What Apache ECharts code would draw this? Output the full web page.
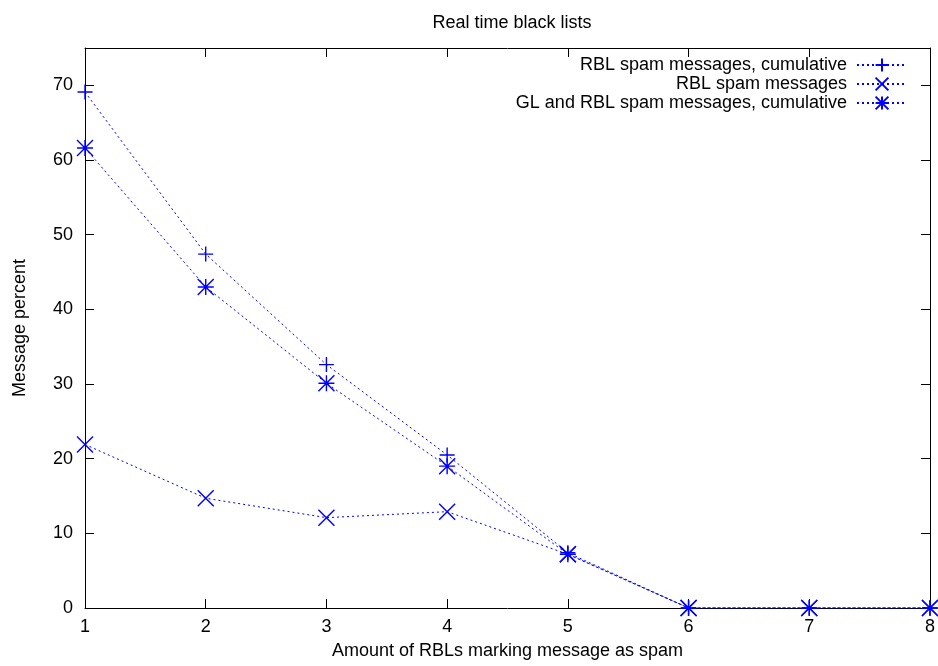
<!DOCTYPE html>
<html>
<head>
<meta charset="utf-8">
<script src="https://cdn.jsdelivr.net/npm/echarts@6/dist/echarts.min.js"></script>
<style>
  html, body { margin: 0; padding: 0; background: #fff; }
  #main { width: 938px; height: 666px; }
</style>
</head>
<body>
<div id="main"></div>
<script>
// 数据
var rblCount = [1, 2, 3, 4, 5, 6, 7, 8];
var rblCumulative = [69.1, 47.4, 32.6, 20.5, 7.4, 0, 0, 0];
var rblMessages = [21.9, 14.7, 12.1, 12.9, 7.2, 0, 0, 0];
var glRblCumulative = [61.6, 43.0, 30.1, 19.0, 7.2, 0, 0, 0];
var seriesNames = [
  'RBL spam messages, cumulative',
  'RBL spam messages',
  'GL and RBL spam messages, cumulative'
];

var FONT = 'Liberation Sans, Arial, Helvetica, sans-serif';
var BLUE = '#0000ff';

// gnuplot 的点型：+ x *
var PLUS = 'path://M0,5L10,5M5,0L5,10';
var CROSS = 'path://M0,0L10,10M10,0L0,10';
var STAR = 'path://M0,5L10,5M5,0L5,10M0,0L10,10M10,0L0,10';

function pairs(ys) {
  return rblCount.map(function (x, i) { return [x, ys[i]]; });
}

function makeSeries(name, ys, symbol, size) {
  return {
    name: name,
    type: 'line',
    data: pairs(ys),
    symbol: symbol,
    symbolSize: size,
    showAllSymbol: true,
    animation: false,
    lineStyle: { color: BLUE, width: 1, type: [2, 3] },
    itemStyle: { color: BLUE, borderColor: BLUE, borderWidth: 1.4 }
  };
}

var myChart = echarts.init(document.getElementById('main'));

// 四边都有向内的刻度
var tickIn = { show: true, inside: true, length: 9, lineStyle: { color: '#000', width: 1 } };
var lineBlack = { show: true, onZero: false, lineStyle: { color: '#000', width: 1 } };

option = {
  backgroundColor: '#fff',
  animation: false,
  title: {
    text: 'Real time black lists',
    left: 507,
    textAlign: 'center',
    top: 9,
    textStyle: { fontFamily: FONT, fontSize: 18, fontWeight: 'normal', color: '#000' }
  },
  legend: {
    orient: 'vertical',
    right: 25,
    top: 51,
    align: 'right',
    itemWidth: 50,
    itemHeight: 16,
    itemGap: 1,
    data: seriesNames,
    textStyle: { fontFamily: FONT, fontSize: 18, color: '#000', padding: [0, 5, 0, 0] }
  },
  grid: { left: 85, right: 8, top: 48, bottom: 58 },
  xAxis: [
    {
      type: 'value',
      min: 1,
      max: 8,
      interval: 1,
      position: 'bottom',
      name: 'Amount of RBLs marking message as spam',
      nameLocation: 'middle',
      nameGap: 34,
      nameTextStyle: { fontFamily: FONT, fontSize: 18, color: '#000' },
      axisLine: lineBlack,
      axisTick: tickIn,
      axisLabel: { fontFamily: FONT, fontSize: 18, color: '#000', margin: 10 },
      splitLine: { show: false }
    },
    {
      type: 'value',
      min: 1,
      max: 8,
      interval: 1,
      position: 'top',
      axisLine: lineBlack,
      axisTick: tickIn,
      axisLabel: { show: false },
      splitLine: { show: false }
    }
  ],
  yAxis: [
    {
      type: 'value',
      min: 0,
      max: 75,
      interval: 10,
      position: 'left',
      name: 'Message percent',
      nameLocation: 'middle',
      nameGap: 56,
      nameRotate: 90,
      nameTextStyle: { fontFamily: FONT, fontSize: 18, color: '#000' },
      axisLine: lineBlack,
      axisTick: tickIn,
      axisLabel: { fontFamily: FONT, fontSize: 18, color: '#000', margin: 12, showMaxLabel: false },
      splitLine: { show: false }
    },
    {
      type: 'value',
      min: 0,
      max: 75,
      interval: 10,
      position: 'right',
      axisLine: lineBlack,
      axisTick: tickIn,
      axisLabel: { show: false },
      splitLine: { show: false }
    }
  ],
  series: [
    makeSeries(seriesNames[0], rblCumulative, PLUS, 15),
    makeSeries(seriesNames[1], rblMessages, CROSS, 16),
    makeSeries(seriesNames[2], glRblCumulative, STAR, 16)
  ]
};

myChart.setOption(option);
</script>
</body>
</html>
